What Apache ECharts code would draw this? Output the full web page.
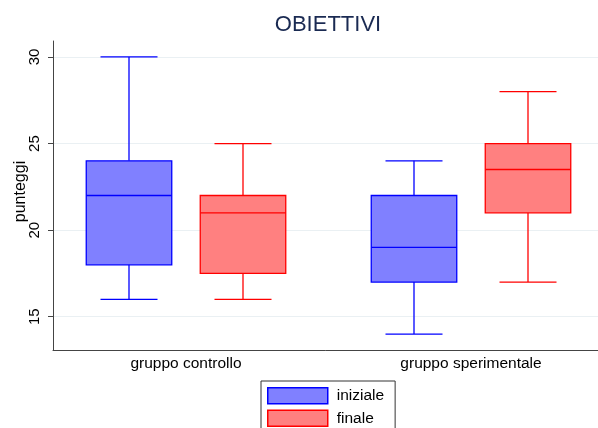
<!DOCTYPE html>
<html>
<head>
<meta charset="utf-8">
<title>OBIETTIVI</title>
<script src="https://cdn.jsdelivr.net/npm/echarts@6/dist/echarts.min.js"></script>
<style>
  html, body { margin: 0; padding: 0; background: #fff; }
  #chart { width: 598px; height: 428px; }
</style>
</head>
<body>
<div id="chart"></div>
<script>
// Groups on the category axis
const categories = ['gruppo controllo', 'gruppo sperimentale'];
// Box statistics per group: [min, Q1, median, Q3, max]
const inizialeStats = [
  [16, 18, 22, 24, 30],
  [14, 17, 19, 22, 24]
];
const finaleStats = [
  [16, 17.5, 21, 22, 25],
  [17, 21, 23.5, 25, 28]
];
// Labelled values on the score axis
const yTicks = [15, 20, 25, 30];
const seriesNames = ['iniziale', 'finale'];

const yMin = 13.08;
const yMax = 30.92;
const FONT = '"Liberation Sans", Arial, Helvetica, sans-serif';

const palette = {
  iniziale: { fill: '#8080ff', stroke: '#0000ff' },
  finale: { fill: '#ff8080', stroke: '#ff0000' }
};

// Draws one box with whiskers, shifted sideways inside the group slot
function boxRenderer(offsetFrac, colors) {
  return function (params, api) {
    const cat = api.value(0);
    const band = api.size([1, 0])[0];
    const cx = api.coord([cat, 0])[0] + offsetFrac * band;
    const y = (i) => api.coord([cat, api.value(i)])[1];
    const pMin = y(1), pQ1 = y(2), pMed = y(3), pQ3 = y(4), pMax = y(5);
    const halfBox = band * 0.15;
    const halfCap = band * 0.1;
    const line = { stroke: colors.stroke, lineWidth: 1.3 };
    return {
      type: 'group',
      children: [
        { type: 'line', shape: { x1: cx, y1: pQ3, x2: cx, y2: pMax }, style: line },
        { type: 'line', shape: { x1: cx, y1: pQ1, x2: cx, y2: pMin }, style: line },
        { type: 'line', shape: { x1: cx - halfCap, y1: pMax, x2: cx + halfCap, y2: pMax }, style: line },
        { type: 'line', shape: { x1: cx - halfCap, y1: pMin, x2: cx + halfCap, y2: pMin }, style: line },
        {
          type: 'rect',
          shape: { x: cx - halfBox, y: pQ3, width: 2 * halfBox, height: pQ1 - pQ3 },
          style: { fill: colors.fill, stroke: colors.stroke, lineWidth: 1.3 }
        },
        { type: 'line', shape: { x1: cx - halfBox, y1: pMed, x2: cx + halfBox, y2: pMed }, style: line }
      ]
    };
  };
}

const chart = echarts.init(document.getElementById('chart'), null, { renderer: 'canvas' });

chart.setOption({
  animation: false,
  backgroundColor: '#ffffff',
  textStyle: { fontFamily: FONT },
  graphic: [{
    type: 'text',
    x: 328,
    y: 25,
    style: {
      text: 'OBIETTIVI',
      fontSize: 22,
      fontFamily: FONT,
      fill: '#1a2a52',
      align: 'center',
      verticalAlign: 'middle'
    }
  }],
  legend: {
    orient: 'vertical',
    left: 261,
    top: 381,
    height: 80,
    padding: [6, 11, 6, 6],
    itemWidth: 60,
    itemHeight: 16,
    itemGap: 5,
    borderColor: '#333333',
    borderWidth: 1,
    backgroundColor: '#ffffff',
    selectedMode: false,
    textStyle: { fontSize: 15.5, color: '#000000', fontFamily: FONT, padding: [0, 0, 0, 4] },
    data: seriesNames.map((n) => ({
      name: n,
      icon: 'rect',
      itemStyle: { color: palette[n].fill, borderColor: palette[n].stroke, borderWidth: 1.5 }
    }))
  },
  grid: [
    // frame and score scale
    { left: 53, top: 41, right: -10, height: 309, containLabel: false, outerBoundsMode: 'none' },
    // group slots for the boxes
    { left: 186, top: 41, width: 285, height: 309, containLabel: false, outerBoundsMode: 'none' }
  ],
  xAxis: [
    {
      gridIndex: 0,
      type: 'value',
      min: 0,
      max: 1,
      axisLine: { show: true, lineStyle: { color: '#444444', width: 1 } },
      axisTick: { show: false },
      axisLabel: { show: false },
      splitLine: { show: false }
    },
    {
      gridIndex: 1,
      type: 'category',
      data: categories,
      boundaryGap: false,
      axisLine: { show: false },
      axisTick: { show: false },
      axisLabel: { show: true, fontSize: 15.5, color: '#000000', margin: 6, interval: 0 },
      splitLine: { show: false }
    }
  ],
  yAxis: [
    {
      gridIndex: 0,
      type: 'value',
      min: yMin,
      max: yMax,
      name: 'punteggi',
      nameLocation: 'middle',
      nameRotate: 90,
      nameGap: 24,
      nameMoveOverlap: false,
      nameTextStyle: { fontSize: 16, color: '#000000', padding: [0, 0, 0, 8] },
      axisLine: { show: true, lineStyle: { color: '#444444', width: 1 } },
      axisTick: { show: true, length: 5, customValues: yTicks, lineStyle: { color: '#444444' } },
      axisLabel: { show: true, rotate: 90, fontSize: 15, color: '#000000', margin: 11, customValues: yTicks },
      splitLine: { show: true, lineStyle: { color: '#eaf0f3', width: 1 } }
    },
    {
      gridIndex: 1,
      type: 'value',
      min: yMin,
      max: yMax,
      show: false,
      splitLine: { show: false }
    }
  ],
  series: [
    {
      name: 'iniziale',
      type: 'custom',
      xAxisIndex: 1,
      yAxisIndex: 1,
      itemStyle: { color: palette.iniziale.fill },
      renderItem: boxRenderer(-0.2, palette.iniziale),
      data: inizialeStats.map((s, i) => [i].concat(s))
    },
    {
      name: 'finale',
      type: 'custom',
      xAxisIndex: 1,
      yAxisIndex: 1,
      itemStyle: { color: palette.finale.fill },
      renderItem: boxRenderer(0.2, palette.finale),
      data: finaleStats.map((s, i) => [i].concat(s))
    }
  ]
});
</script>
</body>
</html>
